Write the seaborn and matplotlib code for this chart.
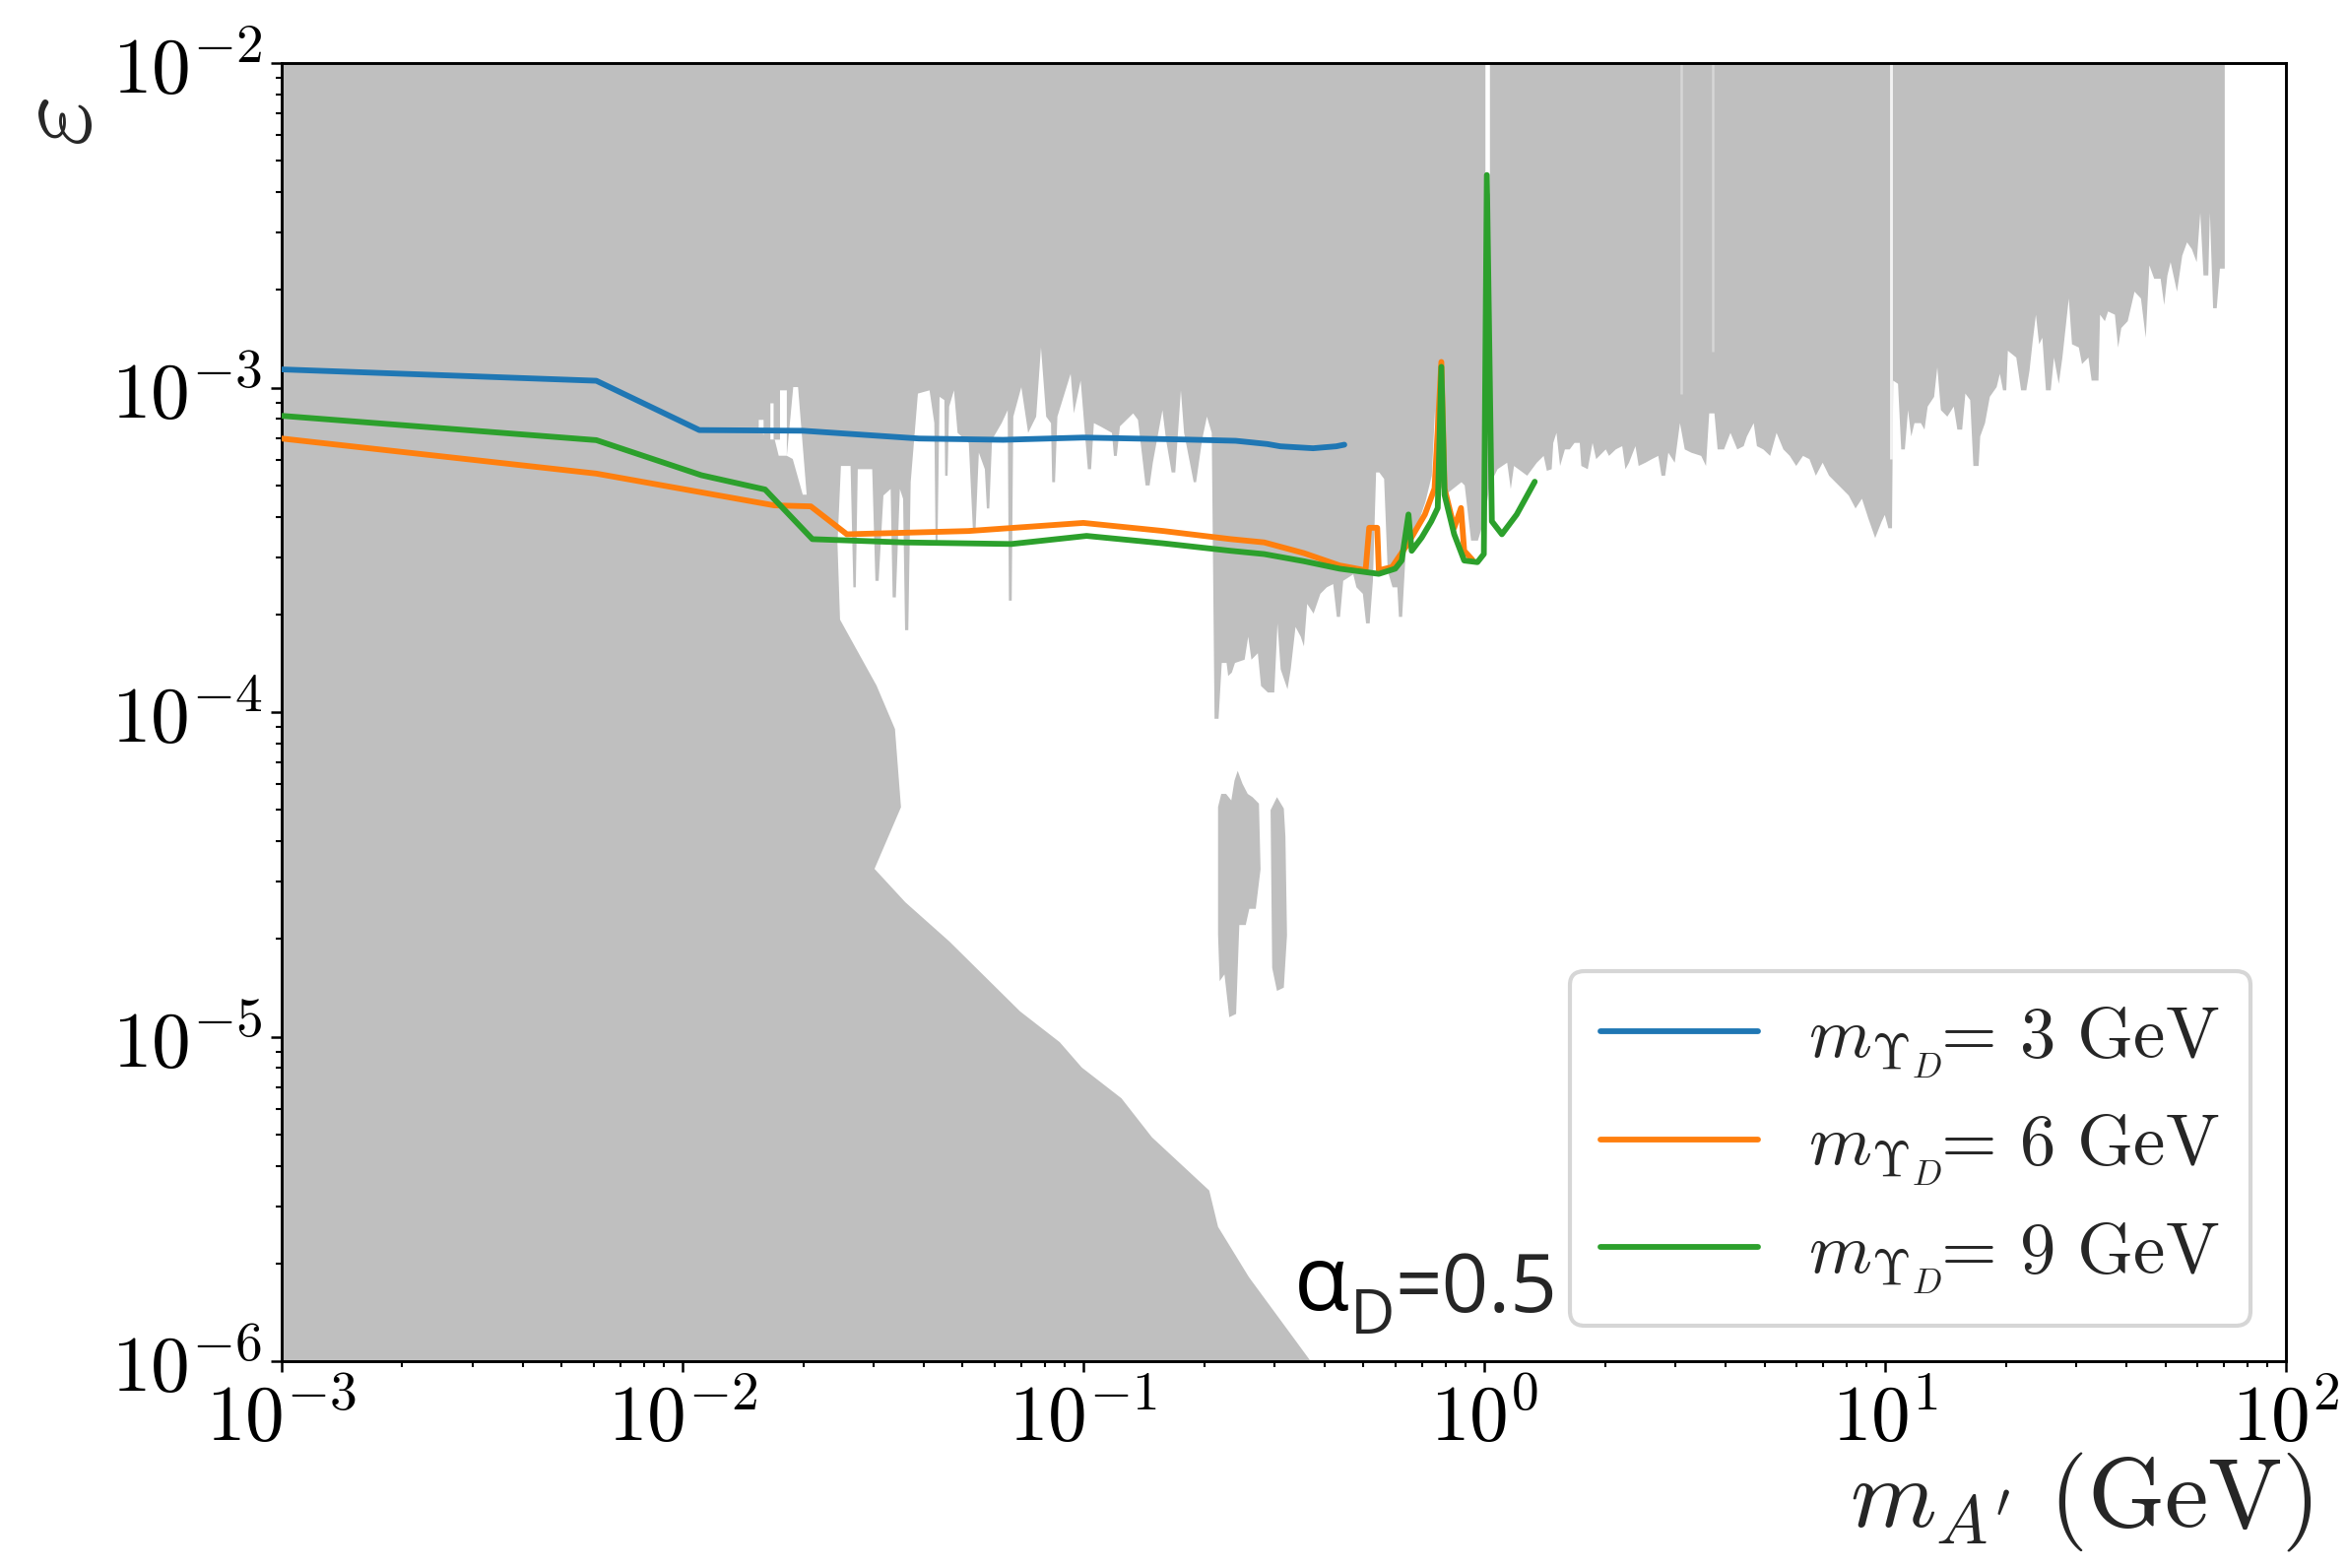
import numpy as np
import pandas as pd
import matplotlib
matplotlib.use("Agg")
import matplotlib.pyplot as plt
import seaborn as sns
from matplotlib.ticker import LogLocator, FuncFormatter, NullFormatter

# ---------------- data (log10 of mass [GeV] and of epsilon) ----------------
labels = [r"$m_{\Upsilon_D}\!\!=\,3\ \mathrm{GeV}$",
          r"$m_{\Upsilon_D}\!\!=\,6\ \mathrm{GeV}$",
          r"$m_{\Upsilon_D}\!\!=\,9\ \mathrm{GeV}$"]
line_colors = ["#1f77b4", "#ff7f0e", "#2ca02c"]

blue_lgm = [-3.0, -2.215, -1.958, -1.70, -1.41, -1.20, -1.00, -0.75, -0.62, -0.541, -0.509, -0.427, -0.369, -0.349]
blue_lge = [-2.944, -2.979, -3.131, -3.133, -3.157, -3.161, -3.154, -3.160, -3.164, -3.174, -3.181, -3.187, -3.181, -3.176]

orange_lgm = [-3.0, -2.215, -1.771, -1.680, -1.590, -1.287, -1.000, -0.800, -0.632, -0.549, -0.450, -0.361, -0.296,
              -0.287, -0.267, -0.263, -0.230, -0.190, -0.148, -0.124, -0.107, -0.099, -0.075, -0.058, -0.050, -0.030]
orange_lge = [-3.157, -3.265, -3.363, -3.366, -3.452, -3.442, -3.417, -3.442, -3.467, -3.477, -3.510, -3.548, -3.563,
              -3.432, -3.432, -3.563, -3.553, -3.480, -3.391, -3.311, -2.921, -3.311, -3.432, -3.371, -3.503, -3.530]

green_lgm = [-3.0, -2.215, -1.953, -1.794, -1.676, -1.450, -1.180, -0.992, -0.800, -0.632, -0.549, -0.450, -0.361,
             -0.263, -0.222, -0.206, -0.189, -0.181, -0.156, -0.132, -0.116, -0.107, -0.099, -0.075, -0.050, -0.017,
             -0.001, 0.0065, 0.019, 0.044, 0.081, 0.126]
green_lge = [-3.087, -3.162, -3.270, -3.314, -3.467, -3.477, -3.482, -3.457, -3.480, -3.503, -3.513, -3.535, -3.558,
             -3.574, -3.558, -3.533, -3.391, -3.503, -3.462, -3.412, -3.371, -2.936, -3.331, -3.452, -3.533, -3.538,
             -3.513, -2.345, -3.412, -3.452, -3.391, -3.290]

# lower edge of the excluded region at large epsilon (filled up to 1e-2), in three pieces
excl_low_lgm = [-3.0, -1.811, -1.811, -1.799, -1.799, -1.782, -1.782, -1.774, -1.774, -1.758, -1.758, -1.741, -1.741,
                -1.725, -1.713, -1.692, -1.684, -1.614, -1.606, -1.582, -1.575, -1.569, -1.564, -1.528, -1.520, -1.512,
                -1.500, -1.482, -1.477, -1.469, -1.459, -1.451, -1.446, -1.438, -1.432, -1.414, -1.385, -1.373, -1.370,
                -1.365, -1.360, -1.348, -1.346, -1.340, -1.336, -1.324, -1.315, -1.287, -1.277, -1.270, -1.262, -1.247,
                -1.242, -1.236, -1.229, -1.205, -1.190, -1.187, -1.180, -1.176, -1.156, -1.139, -1.119, -1.107, -1.094,
                -1.082, -1.079, -1.072, -1.066, -1.033, -1.025, -1.008, -0.996, -0.990, -0.982, -0.975, -0.959, -0.930,
                -0.925, -0.918, -0.910, -0.877, -0.865, -0.846, -0.836, -0.828, -0.804, -0.795, -0.781, -0.772, -0.758,
                -0.750, -0.726, -0.720, -0.705, -0.693, -0.681, -0.674]
excl_low_lge = [-3.513, -3.513, -3.098, -3.098, -3.513, -3.513, -3.047, -3.047, -3.159, -3.159, -3.007, -3.007, -3.209,
                -2.997, -2.997, -3.321, -3.513, -3.462, -3.240, -3.240, -3.614, -3.614, -3.250, -3.250, -3.594, -3.594,
                -3.331, -3.311, -3.645, -3.645, -3.311, -3.341, -3.746, -3.746, -3.290, -3.017, -3.007, -3.108, -3.472,
                -3.472, -3.027, -3.037, -3.270, -3.270, -3.057, -3.007, -3.138, -3.169, -3.432, -3.432, -3.199, -3.250,
                -3.371, -3.371, -3.159, -3.108, -3.068, -3.655, -3.655, -3.088, -2.997, -3.138, -3.088, -2.875, -3.088,
                -3.108, -3.290, -3.290, -3.088, -2.956, -3.078, -2.977, -3.159, -3.250, -3.250, -3.108, -3.118, -3.138,
                -3.209, -3.209, -3.118, -3.078, -3.098, -3.300, -3.300, -3.230, -3.068, -3.159, -3.260, -3.260, -3.007,
                -3.138, -3.290, -3.290, -3.159, -3.088, -3.138, -4.019]

excl_mid_lgm = [-0.664, -0.656, -0.644, -0.640, -0.631, -0.623, -0.599, -0.590, -0.582, -0.566, -0.558, -0.541, -0.525,
                -0.517, -0.509, -0.492, -0.484, -0.472, -0.459, -0.451, -0.443, -0.427, -0.410, -0.394, -0.378, -0.369,
                -0.361, -0.353, -0.328, -0.320, -0.304, -0.296, -0.287, -0.279, -0.271, -0.263, -0.251, -0.242, -0.230,
                -0.218, -0.214, -0.206, -0.197, -0.181, -0.165, -0.148, -0.132, -0.124, -0.120, -0.107, -0.099, -0.058,
                -0.050, -0.034, -0.017, 0.000, 0.012, 0.032, 0.056, 0.065, 0.073, 0.106]
excl_mid_lge = [-4.019, -3.847, -3.847, -3.887, -3.877, -3.847, -3.837, -3.766, -3.837, -3.817, -3.918, -3.938, -3.938,
                -3.725, -3.867, -3.928, -3.867, -3.736, -3.766, -3.796, -3.665, -3.695, -3.634, -3.614, -3.604, -3.705,
                -3.705, -3.594, -3.574, -3.614, -3.634, -3.725, -3.725, -3.594, -3.260, -3.260, -3.280, -3.563, -3.614,
                -3.614, -3.705, -3.705, -3.503, -3.462, -3.412, -3.351, -3.270, -3.068, -3.270, -3.311, -3.330, -3.290,
                -3.300, -3.470, -3.470, -3.400, -3.300, -3.250, -3.230, -3.311, -3.240, -3.270]

excl_high_lgm = [0.130, 0.147, 0.155, 0.167, 0.171, 0.179, 0.188, 0.200, 0.212, 0.224, 0.237, 0.241, 0.257, 0.269,
                 0.278, 0.302, 0.310, 0.327, 0.343, 0.351, 0.360, 0.376, 0.384, 0.401, 0.417, 0.433, 0.441, 0.450,
                 0.458, 0.474, 0.487, 0.499, 0.515, 0.540, 0.552, 0.560, 0.573, 0.581, 0.597, 0.613, 0.630, 0.646,
                 0.654, 0.671, 0.679, 0.695, 0.712, 0.728, 0.745, 0.761, 0.777, 0.794, 0.810, 0.826, 0.843, 0.859,
                 0.875, 0.892, 0.908, 0.925, 0.941, 0.957, 0.974, 0.990, 0.998, 1.007, 1.016,
                 1.019, 1.031, 1.039, 1.048, 1.056, 1.064, 1.072, 1.088, 1.097, 1.105, 1.121, 1.129, 1.138, 1.154,
                 1.170, 1.179, 1.191, 1.199, 1.211, 1.219, 1.232, 1.236, 1.248, 1.260, 1.277, 1.285, 1.293, 1.301,
                 1.305, 1.326, 1.338, 1.351, 1.359, 1.367, 1.375, 1.383, 1.391, 1.400, 1.412, 1.420, 1.432, 1.441,
                 1.457, 1.465, 1.482, 1.490, 1.506, 1.514, 1.531, 1.535, 1.547, 1.555, 1.572, 1.580, 1.588, 1.604,
                 1.621, 1.637, 1.649, 1.658, 1.670, 1.686, 1.695, 1.703, 1.711, 1.727, 1.740, 1.752, 1.764, 1.776,
                 1.785, 1.793, 1.805, 1.809, 1.817, 1.826, 1.834, 1.846, 1.846]
excl_high_lge = [-3.230, -3.209, -3.255, -3.250, -3.169, -3.138, -3.240, -3.189, -3.189, -3.169, -3.169, -3.240,
                 -3.250, -3.169, -3.219, -3.189, -3.209, -3.189, -3.179, -3.250, -3.230, -3.179, -3.240, -3.230,
                 -3.219, -3.209, -3.270, -3.270, -3.199, -3.230, -3.108, -3.189, -3.199, -3.209, -3.240, -3.078,
                 -3.078, -3.189, -3.189, -3.138, -3.189, -3.179, -3.149, -3.108, -3.179, -3.189, -3.209, -3.138,
                 -3.189, -3.209, -3.240, -3.209, -3.219, -3.270, -3.230, -3.270, -3.290, -3.311, -3.331, -3.371,
                 -3.341, -3.402, -3.462, -3.412, -3.391, -3.432, -3.432,
                 -2.977, -2.987, -3.189, -3.189, -3.068, -3.149, -3.108, -3.108, -3.128, -3.057, -3.027, -2.936,
                 -3.068, -3.088, -3.057, -3.128, -3.128, -3.017, -3.037, -3.240, -3.240, -3.149, -3.108, -3.027,
                 -2.997, -2.956, -3.007, -3.007, -2.885, -2.906, -3.007, -3.007, -2.946, -2.855, -2.774, -2.865,
                 -2.845, -3.007, -3.007, -2.906, -2.987, -2.906, -2.724, -2.865, -2.875, -2.926, -2.906, -2.977,
                 -2.977, -2.774, -2.794, -2.764, -2.774, -2.875, -2.815, -2.794, -2.703, -2.724, -2.845, -2.622,
                 -2.663, -2.663, -2.744, -2.653, -2.612, -2.703, -2.592, -2.551, -2.572, -2.612, -2.460, -2.653,
                 -2.653, -2.460, -2.754, -2.754, -2.632, -2.632, -2.0]

# beam-dump excluded region (lower left)
dump_lgm = [-3.0, -3.0, -1.800, -1.790, -1.770, -1.760, -1.740, -1.725, -1.700, -1.690, -1.620, -1.614,
            -1.607, -1.516, -1.470, -1.455, -1.521, -1.444, -1.334, -1.158, -1.059, -1.004,
            -0.905, -0.829, -0.686, -0.664, -0.587, -0.433]
dump_lge = [-6.0, -3.140, -3.140, -3.160, -3.160, -3.210, -3.210, -3.220, -3.330, -3.330, -3.400, -3.460,
            -3.715, -3.918, -4.052, -4.293, -4.483, -4.586, -4.707, -4.922, -5.017, -5.095,
            -5.190, -5.310, -5.474, -5.586, -5.741, -6.0]

# two small excluded islands
island1_lgm = [-0.664, -0.656, -0.644, -0.631, -0.623, -0.615, -0.603, -0.590, -0.578, -0.562, -0.558, -0.570,
               -0.586, -0.595, -0.611, -0.619, -0.636, -0.648, -0.660, -0.664]
island1_lge = [-4.292, -4.252, -4.252, -4.272, -4.211, -4.181, -4.221, -4.252, -4.262, -4.282, -4.484, -4.606,
               -4.606, -4.656, -4.656, -4.930, -4.940, -4.808, -4.829, -4.687]
island2_lgm = [-0.533, -0.517, -0.500, -0.496, -0.492, -0.500, -0.517, -0.529]
island2_lge = [-4.302, -4.262, -4.297, -4.383, -4.687, -4.849, -4.859, -4.788]

# narrow unexcluded slits (resonances)
gap_lgm = [0.0065, 0.491, 0.571, 1.0135]
gap_bottom_lge = [-2.40, -3.02, -2.89, -3.22]
gap_colors = ["white", "#d6d6d6", "#d6d6d6", "#f2f2f2"]
gap_widths = [1.1, 0.6, 0.6, 0.7]

# ---------------- style ----------------
sns.set_theme(style="ticks", rc={
    "axes.edgecolor": "black",
    "axes.linewidth": 0.7,
    "xtick.major.size": 2.7, "ytick.major.size": 2.7,
    "xtick.minor.size": 1.4, "ytick.minor.size": 1.4,
    "xtick.major.width": 0.6, "ytick.major.width": 0.6,
    "xtick.minor.width": 0.5, "ytick.minor.width": 0.5,
    "xtick.color": "black", "ytick.color": "black",
})
plt.rcParams["mathtext.fontset"] = "cm"
plt.rcParams["font.family"] = ["DejaVu Sans"]

GREY = "#bfbfbf"

fig = plt.figure(figsize=(2383 / 300, 1593 / 300), dpi=300)
ax = fig.add_axes([0.1200, 0.1318, 0.8540, 0.8274])
ax.set_xscale("log")
ax.set_yscale("log")

# excluded regions
ub_m = 10 ** np.concatenate([excl_low_lgm, excl_mid_lgm, excl_high_lgm])
ub_e = 10 ** np.concatenate([excl_low_lge, excl_mid_lge, excl_high_lge])
ax.fill_between(ub_m, ub_e, 1e-2, color=GREY, lw=0, zorder=1)
ax.fill(10 ** np.array(dump_lgm), 10 ** np.array(dump_lge), color=GREY, lw=0, zorder=1)
ax.fill(10 ** np.array(island1_lgm), 10 ** np.array(island1_lge), color=GREY, lw=0, zorder=1)
ax.fill(10 ** np.array(island2_lgm), 10 ** np.array(island2_lge), color=GREY, lw=0, zorder=1)
ax.vlines(10 ** np.array(gap_lgm), 10 ** np.array(gap_bottom_lge), 1e-2,
          colors=gap_colors, linewidths=gap_widths, zorder=1.5)

# sensitivity lines
frames = []
for lab, lm, le in zip(labels, [blue_lgm, orange_lgm, green_lgm], [blue_lge, orange_lge, green_lge]):
    frames.append(pd.DataFrame({"mass": 10 ** np.array(lm), "eps": 10 ** np.array(le), "label": lab}))
df = pd.concat(frames, ignore_index=True)
sns.lineplot(data=df, x="mass", y="eps", hue="label", hue_order=labels, palette=line_colors,
             estimator=None, sort=False, linewidth=1.4, ax=ax, zorder=3)

ax.set_xlim(1e-3, 1e2)
ax.set_ylim(1e-6, 1e-2)

fmt = FuncFormatter(lambda v, p: r"$10^{%d}$" % int(round(np.log10(v))))
for axis in (ax.xaxis, ax.yaxis):
    axis.set_major_locator(LogLocator(base=10, numticks=12))
    axis.set_minor_locator(LogLocator(base=10, subs=np.arange(2, 10), numticks=12))
    axis.set_major_formatter(fmt)
    axis.set_minor_formatter(NullFormatter())
ax.tick_params(which="major", labelsize=19, pad=2)
for s in ax.spines.values():
    s.set_linewidth(0.7)
    s.set_color("black")

ax.set_xlabel(r"$m_{A^{\prime}}\ \mathrm{(GeV)}$", fontsize=24)
ax.xaxis.set_label_coords(0.898, -0.068)
ax.set_ylabel(r"$\varepsilon$", fontsize=27)
ax.yaxis.set_label_coords(-0.084, 0.955)

handles, _ = ax.get_legend_handles_labels()
ax.legend(handles[:3], labels, loc="lower right", fontsize=17.5, handlelength=2.2,
          handletextpad=0.7, labelspacing=0.42, borderpad=0.42, frameon=True,
          fancybox=True, framealpha=0.8, edgecolor="0.8")

# alpha_D annotation
fam = ["Open Sans", "DejaVu Sans"]
t1 = ax.text(0.505, 0.040, "α", transform=ax.transAxes, fontsize=22,
             family=fam, va="baseline", ha="left", color="black", zorder=6)
t2 = ax.annotate("D", xy=(1, 0), xycoords=t1, xytext=(0.2, -4), textcoords="offset points",
                 fontsize=15, family=fam, va="bottom", ha="left", zorder=6)
t3 = ax.annotate("=0.5", xy=(1, 0), xycoords=t2, xytext=(0, 4), textcoords="offset points",
                 fontsize=20, family=fam, va="bottom", ha="left", zorder=6)

fig.savefig("out.png", dpi=300)
